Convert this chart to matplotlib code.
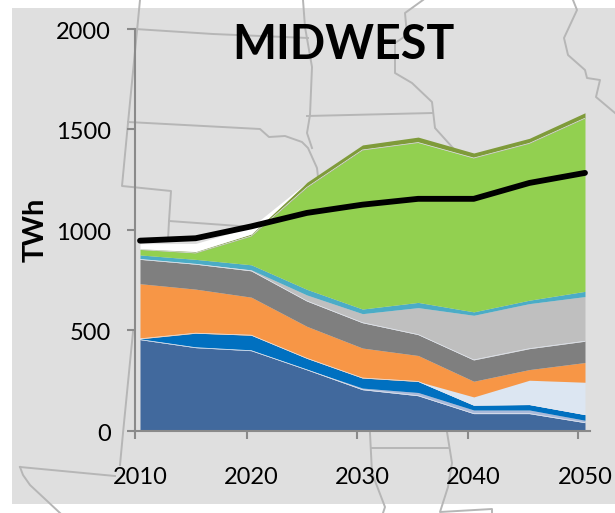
import matplotlib
matplotlib.use('Agg')
import matplotlib.pyplot as plt
from matplotlib.patches import Rectangle
from matplotlib.transforms import ScaledTranslation
import numpy as np

years = [2010, 2015, 2020, 2025, 2030, 2035, 2040, 2045, 2050]
label_years = [2010, 2020, 2030, 2040, 2050]
y_ticks = [0, 500, 1000, 1500, 2000]
# the tick marks sit a little left of the category they belong to
tick_years = [2009.55, 2019.6, 2029.5, 2039.5, 2049.4]

steel = [453, 413, 398, 303, 204, 174, 85, 85, 40]
periwinkle = [2, 2, 2, 2, 8, 16, 18, 18, 12]
blue = [2, 70, 75, 55, 50, 55, 24, 27, 28]
pale = [0, 0, 0, 0, 0, 0, 41, 121, 161]
orange = [274, 219, 189, 159, 149, 129, 78, 53, 98]
gray = [121, 124, 131, 126, 126, 104, 106, 104, 106]
light_gray = [2, 2, 5, 30, 45, 134, 222, 224, 222]
teal = [20, 22, 25, 28, 23, 26, 17, 17, 26]
green = [27, 32, 143, 507, 791, 795, 765, 780, 861]
olive = [4, 7, 10, 25, 25, 27, 25, 25, 27]
white = [25, 40, 35, 0, 0, 0, 0, 0, 0]
demand = [945, 957, 1016, 1083, 1124, 1153, 1153, 1232, 1282]

layers = [
    (steel, '#41699d', True),
    (periwinkle, '#a9b9d9', False),
    (blue, '#0070c0', True),
    (pale, '#dce6f2', False),
    (orange, '#f79646', False),
    (gray, '#7f7f7f', True),
    (light_gray, '#bfbfbf', False),
    (teal, '#4bacc6', False),
    (green, '#92d050', True),
    (olive, '#7f9b3a', False),
    (white, '#ffffff', False),
]

# state borders of the map behind the chart, in image pixels
borders = [
    [(140, 0), (128, 123), (122, 186), (171, 191), (169, 221), (168, 240)],
    [(169, 221), (253, 227), (290, 229)],
    [(135, 29), (213, 34), (308, 38)],
    [(128, 122), (260, 129), (269, 137), (285, 136), (302, 142), (308, 148), (317, 168), (318, 177)],
    [(303, 0), (305, 27), (312, 67), (310, 115), (308, 127), (307, 133), (312, 148)],
    [(307, 116), (433, 113)],
    [(423, 0), (405, 13), (407, 35), (395, 43), (395, 73), (412, 83), (432, 102), (435, 128), (453, 148)],
    [(573, 0), (577, 10), (564, 38), (568, 55), (585, 70), (587, 78), (600, 80), (596, 97), (615, 113)],
    [(133, 332), (123, 433), (120, 465)],
    [(20, 467), (115, 476)],
    [(20, 467), (23, 475), (30, 485), (60, 513)],
    [(370, 433), (372, 473), (385, 507), (383, 513)],
    [(372, 448), (448, 448)],
    [(447, 432), (452, 463), (448, 487), (440, 512), (492, 509), (492, 513)],
]

plt.rcParams['font.family'] = ['Lato', 'DejaVu Sans']

width, height = 615, 513
fig = plt.figure(figsize=(width / 100, height / 100), dpi=100)

back = fig.add_axes([0, 0, 1, 1])
back.set_xlim(0, width)
back.set_ylim(height, 0)
back.axis('off')
back.add_patch(Rectangle((12, 8), 603, 496, facecolor='#dfdfdf', edgecolor='none'))
for border in borders:
    xs, ys = zip(*border)
    back.plot(xs, ys, color='#b6b6b6', lw=1.4, solid_joinstyle='round')

axes = fig.add_axes([135 / width, (height - 430.7) / height, 455 / width, 402.2 / height])
axes.patch.set_alpha(0)
axes.set_xlim(2009.55, 2050.45)
axes.set_ylim(0, 2000)

base = np.zeros(len(years))
for values, color, top_line in layers:
    top = base + np.array(values)
    axes.fill_between(years, base, top, color=color, linewidth=0)
    if top_line:
        axes.plot(years, top, color='#e4e9f2', lw=0.5, solid_capstyle='butt')
    base = top

axes.plot(years, demand, color='black', lw=4.2, solid_capstyle='round', solid_joinstyle='round')

for side in ['top', 'right']:
    axes.spines[side].set_visible(False)
for side in ['left', 'bottom']:
    axes.spines[side].set_color('#8a8a8a')
    axes.spines[side].set_linewidth(1.5)

axes.set_yticks(y_ticks)
axes.tick_params(axis='y', length=6, width=1.5, color='#8a8a8a', labelsize=17, pad=11.5)
axes.set_xticks(label_years)
axes.set_xticks(tick_years, minor=True)
axes.tick_params(axis='x', which='major', length=0, labelsize=17, pad=26)
axes.tick_params(axis='x', which='minor', length=6, width=1.5, color='#8a8a8a')

# y labels sit slightly below their ticks in the original
nudge = ScaledTranslation(0, -1.2 / 72, fig.dpi_scale_trans)
for label in axes.get_yticklabels():
    label.set_transform(label.get_transform() + nudge)

fig.text(36 / width, 1 - 230 / height, 'TWh', rotation=90, ha='center', va='center',
         fontsize=21, fontweight='bold')
fig.text(343.5 / width, 1 - 45 / height, 'MIDWEST', ha='center', va='center',
         fontsize=33.5, fontweight='bold')

plt.savefig('out.png', dpi=100)
plt.close('all')
